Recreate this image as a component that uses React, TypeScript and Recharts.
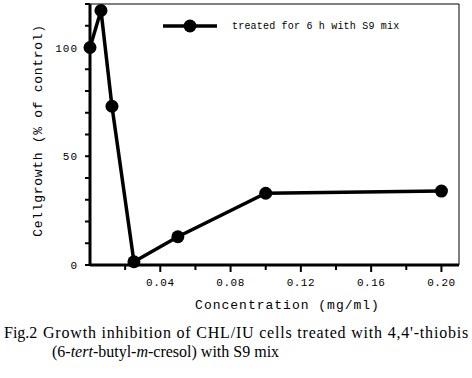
import React from 'react';
import { LineChart, Line, XAxis, YAxis, ReferenceLine, Legend } from 'recharts';

// concentration (mg/ml) and cell growth (% of control)
const concentration = [0, 0.00625, 0.0125, 0.025, 0.05, 0.1, 0.2];
const cellGrowth = [100, 117, 73, 1.5, 13, 33, 34];
const seriesName = 'treated for 6 h with S9 mix';

const xTicks = [0.02, 0.04, 0.06, 0.08, 0.1, 0.12, 0.14, 0.16, 0.18, 0.2];
const xLabelled = [0.04, 0.08, 0.12, 0.16, 0.2];
const yTicks = [0, 10, 20, 30, 40, 50, 60, 70, 80, 90, 100, 110, 120];
const yLabelled = [0, 50, 100];

const data = concentration.map((c, i) => ({ conc: c, growth: cellGrowth[i] }));

const MONO = '"Liberation Mono", "DejaVu Sans Mono", monospace';
const SERIF = '"Liberation Serif", "DejaVu Serif", serif';

const isIn = (list: number[], v: number) => list.some((t) => Math.abs(t - v) < 1e-9);

const XTick = (props: any) => {
  const { x, y, payload } = props;
  const major = isIn(xLabelled, payload.value);
  return (
    <g>
      <line x1={x} y1={y} x2={x} y2={y + (major ? 7 : 5)} stroke="#000" strokeWidth={2} />
      {major && (
        <text x={x} y={y + 21} textAnchor="middle" fontFamily={MONO} fontSize={11} letterSpacing={0.5} fill="#000">
          {payload.value.toFixed(2)}
        </text>
      )}
    </g>
  );
};

const YTick = (props: any) => {
  const { x, y, payload } = props;
  const major = isIn(yLabelled, payload.value);
  return (
    <g>
      <line x1={x - 5} y1={y} x2={x} y2={y} stroke="#000" strokeWidth={2} />
      {major && (
        <text x={x - 12} y={y + 4} textAnchor="end" fontFamily={MONO} fontSize={11} letterSpacing={1} fill="#000">
          {payload.value}
        </text>
      )}
    </g>
  );
};

const YLabel = (props: any) => {
  const { viewBox } = props;
  const cx = viewBox.x + 8;
  const cy = viewBox.y + viewBox.height / 2 - 4;
  return (
    <text
      x={cx}
      y={cy}
      transform={`rotate(-90 ${cx} ${cy})`}
      textAnchor="middle"
      dominantBaseline="central"
      fontFamily={MONO}
      fontSize={13}
      letterSpacing={0.7}
      fill="#000"
    >
      Cellgrowth (% of control)
    </text>
  );
};

const XLabel = (props: any) => {
  const { viewBox } = props;
  const cx = viewBox.x + viewBox.width / 2 + 13;
  return (
    <text x={cx} y={viewBox.y + 44} textAnchor="middle" fontFamily={MONO} fontSize={13} letterSpacing={1} fill="#000">
      Concentration (mg/ml)
    </text>
  );
};

const LegendContent = (props: any) => {
  const name = props.payload && props.payload[0] ? props.payload[0].value : seriesName;
  return (
    <svg width={260} height={24} style={{ display: 'block' }}>
      <line x1={3} y1={12} x2={57} y2={12} stroke="#000" strokeWidth={3.5} />
      <circle cx={30} cy={12} r={6.5} fill="#000" />
      <text x={72} y={12} dominantBaseline="central" fontFamily={MONO} fontSize={10} letterSpacing={0.2} fill="#000">
        {name}
      </text>
    </svg>
  );
};

const caption = { position: 'absolute' as const, fontFamily: SERIF, fontSize: 16, color: '#000', whiteSpace: 'nowrap' as const };

export default function App() {
  return (
    <div style={{ position: 'absolute', left: 0, top: 0, width: 472, height: 378, background: '#fff' }}>
      <LineChart width={472} height={320} data={data} margin={{ top: 4, right: 13, left: 30, bottom: 0 }}>
        <XAxis
          dataKey="conc"
          type="number"
          domain={[0, 0.21]}
          ticks={xTicks}
          interval={0}
          height={55}
          tickSize={0}
          tickMargin={0}
          tickLine={false}
          tick={XTick}
          axisLine={{ stroke: '#000', strokeWidth: 3 }}
          label={XLabel}
        />
        <YAxis
          type="number"
          domain={[0, 120]}
          ticks={yTicks}
          interval={0}
          width={60}
          tickSize={0}
          tickMargin={0}
          tickLine={false}
          tick={YTick}
          axisLine={{ stroke: '#000', strokeWidth: 3 }}
          label={YLabel}
        />
        <ReferenceLine y={120} stroke="#000" strokeWidth={1} />
        <ReferenceLine x={0.21} stroke="#000" strokeWidth={1} />
        <Legend
          layout="horizontal"
          align="center"
          verticalAlign="middle"
          content={LegendContent}
          wrapperStyle={{ top: 14, left: 160, width: 260 }}
        />
        <Line
          dataKey="growth"
          name={seriesName}
          type="linear"
          stroke="#000"
          strokeWidth={3.5}
          dot={{ r: 6.5, fill: '#000', stroke: '#000', strokeWidth: 0 }}
          isAnimationActive={false}
        />
      </LineChart>
      <div style={{ ...caption, left: 4, top: 324 }}>Fig.2</div>
      <div style={{ ...caption, left: 43, top: 324, letterSpacing: 0.8 }}>
        Growth inhibition of CHL/IU cells treated with 4,4'-thiobis
      </div>
      <div style={{ ...caption, left: 52, top: 343 }}>
        (6-<i>tert</i>-butyl-<i>m</i>-cresol) with S9 mix
      </div>
    </div>
  );
}
